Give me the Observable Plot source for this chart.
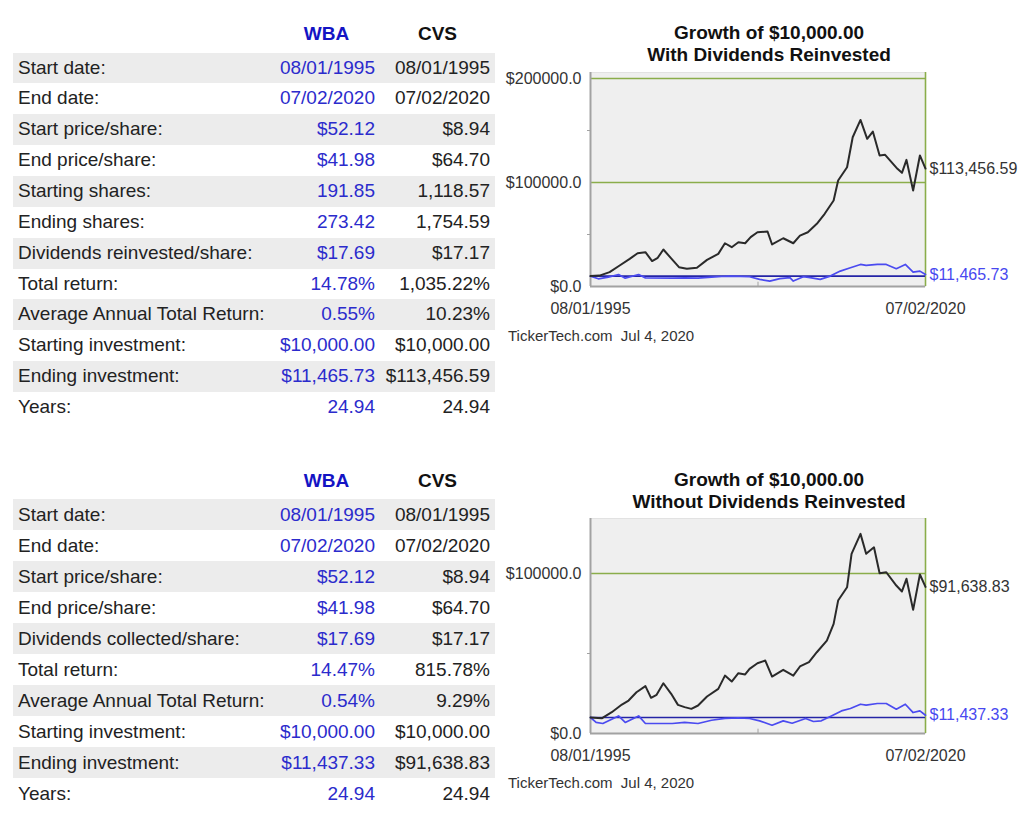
<!DOCTYPE html>
<html>
<head>
<meta charset="utf-8">
<script src="https://cdn.jsdelivr.net/npm/d3@7"></script>
<script src="https://cdn.jsdelivr.net/npm/@observablehq/plot@0.6"></script>
<style>
  html, body { margin: 0; padding: 0; background: #fff; }
  body { width: 1024px; height: 822px; position: relative; overflow: hidden;
         font-family: "Liberation Sans", Arial, sans-serif; color: #222; }
  .row { position: absolute; left: 13px; width: 482px; font-size: 19px; }
  .row span { position: absolute; top: 0; white-space: nowrap; }
  .lab { left: 5px; color: #222; }
  .wba { right: 120px; color: #2b2bcc; }
  .cvs { right: 5px; color: #222; }
  .hdr { position: absolute; width: 110px; text-align: center; font-weight: bold; font-size: 19px; }
  .title { position: absolute; left: 569px; width: 400px; text-align: center; font-weight: bold; font-size: 19px; color: #111; line-height: 22px; }
  .cap { position: absolute; left: 508px; font-size: 15px; color: #333; white-space: pre; }
  .chart { position: absolute; left: 500px; }
</style>
</head>
<body>
<div id="root"></div>
<script>
// ---------- Table data ----------
const tickers = ["WBA", "CVS"];
const labels1 = ["Start date:", "End date:", "Start price/share:", "End price/share:", "Starting shares:", "Ending shares:", "Dividends reinvested/share:", "Total return:", "Average Annual Total Return:", "Starting investment:", "Ending investment:", "Years:"];
const wba1 = ["08/01/1995", "07/02/2020", "$52.12", "$41.98", "191.85", "273.42", "$17.69", "14.78%", "0.55%", "$10,000.00", "$11,465.73", "24.94"];
const cvs1 = ["08/01/1995", "07/02/2020", "$8.94", "$64.70", "1,118.57", "1,754.59", "$17.17", "1,035.22%", "10.23%", "$10,000.00", "$113,456.59", "24.94"];

const labels2 = ["Start date:", "End date:", "Start price/share:", "End price/share:", "Dividends collected/share:", "Total return:", "Average Annual Total Return:", "Starting investment:", "Ending investment:", "Years:"];
const wba2 = ["08/01/1995", "07/02/2020", "$52.12", "$41.98", "$17.69", "14.47%", "0.54%", "$10,000.00", "$11,437.33", "24.94"];
const cvs2 = ["08/01/1995", "07/02/2020", "$8.94", "$64.70", "$17.17", "815.78%", "9.29%", "$10,000.00", "$91,638.83", "24.94"];

// ---------- Chart data (date, value) ----------
const cvsWith = [["1995-08-01",10000],["1996-04",10500],["1997-01",13800],["1997-10",20200],["1998-07",26600],["1999-02",32000],["1999-09",33000],["2000-03",24500],["2000-08",27600],["2001-01",35600],["2001-08",27000],["2002-03",18600],["2002-10",17000],["2003-07",18000],["2004-04",25600],["2005-02",31400],["2005-08",41600],["2006-02",37800],["2006-08",42600],["2007-02",41600],["2007-07",47500],["2008-01",52200],["2008-10",52900],["2009-02",40400],["2009-12",46400],["2010-09",41600],["2011-03",49000],["2011-10",52200],["2012-06",60300],["2013-01",69900],["2013-09",82700],["2014-01",101900],["2014-09",114700],["2015-02",143500],["2015-09",160200],["2016-03",142000],["2016-08",149000],["2017-02",126000],["2017-07",126600],["2018-06",113200],["2018-10",109300],["2019-02",121800],["2019-08",92300],["2020-02",126000],["2020-07-02",113456.59]];
const wbaWith = [["1995-08-01",10000],["1996-03",7400],["1996-12",9000],["1997-09",11500],["1998-03",8000],["1999-03",11500],["1999-09",8300],["2001-09",8000],["2002-08",8300],["2003-08",8000],["2004-08",9000],["2005-05",9600],["2006-02",10000],["2007-06",9400],["2008-03",6800],["2008-12",5200],["2009-09",7500],["2010-06",8500],["2010-09",5200],["2011-06",9400],["2011-12",8500],["2012-09",6800],["2013-06",10000],["2014-03",14800],["2014-12",18000],["2015-09",21200],["2016-02",20300],["2016-12",21200],["2017-08",21200],["2018-05",17100],["2019-01",21200],["2019-08",13800],["2020-02",14800],["2020-07-02",11465.73]];
const cvsWithout = [["1995-08-01",10000],["1996-06",9500],["1997-03",13300],["1997-12",18100],["1998-06",20600],["1999-01",25800],["1999-09",29600],["2000-02",22300],["2000-07",24200],["2001-01",31400],["2001-08",24800],["2002-02",17900],["2002-08",16500],["2003-02",15400],["2003-08",17500],["2004-04",23100],["2005-02",27900],["2005-08",36200],["2006-02",32500],["2006-08",37700],["2007-02",36900],["2007-06",40400],["2008-01",43900],["2008-08",45600],["2009-02",35600],["2009-12",39800],["2010-09",36200],["2011-03",41900],["2011-11",44600],["2012-06",50800],["2013-03",58100],["2013-09",68500],["2014-01",83100],["2014-09",91400],["2015-01",112300],["2015-09",124800],["2016-02",112300],["2016-09",116400],["2017-02",100200],["2017-08",100800],["2018-05",92500],["2018-10",88800],["2019-02",96700],["2019-08",77300],["2020-02",99400],["2020-07-02",91638.83]];
const wbaWithout = [["1995-08-01",10000],["1996-01",6900],["1996-07",6250],["1997-09",11000],["1998-03",6900],["1999-03",11000],["1999-09",6250],["2001-09",6250],["2002-08",6900],["2003-08",6250],["2004-08",8300],["2005-08",9400],["2006-08",9800],["2007-06",9400],["2008-03",7900],["2009-02",5200],["2009-12",7900],["2010-08",6400],["2011-08",9400],["2012-03",7500],["2012-10",7900],["2013-07",11000],["2014-04",14100],["2014-12",15600],["2015-09",18300],["2016-02",17700],["2016-12",18750],["2017-08",18750],["2018-05",15200],["2019-01",18300],["2019-08",13100],["2020-02",14100],["2020-07-02",11437.33]];

const startDate = "1995-08-01", endDate = "2020-07-02";
const startInvestment = 10000;
const titleLine1 = "Growth of $10,000.00";
const subtitles = ["With Dividends Reinvested", "Without Dividends Reinvested"];
const caption = "TickerTech.com  Jul 4, 2020";
const yLabelTicks1 = [0, 100000, 200000], yMinorTicks1 = [50000, 150000], yMax1 = 205800;
const yLabelTicks2 = [0, 100000], yMinorTicks2 = [50000], yMax2 = 134400;

// ---------- Build tables ----------
const root = document.getElementById("root");
function el(cls, text, style) {
  const d = document.createElement("div");
  d.className = cls; if (text != null) d.textContent = text;
  Object.assign(d.style, style || {});
  root.appendChild(d); return d;
}
function table(labels, wba, cvs, headerY, bandTop, rowH) {
  el("hdr", tickers[0], {left: "271.5px", top: (headerY - 11) + "px", color: "#1414c4", lineHeight: "22px"});
  el("hdr", tickers[1], {left: "382.5px", top: (headerY - 11) + "px", color: "#111", lineHeight: "22px"});
  labels.forEach((lab, i) => {
    const r = el("row", null, {top: (bandTop + i * rowH) + "px", height: rowH + "px", lineHeight: rowH + "px",
      background: i % 2 === 0 ? "#ececec" : "transparent"});
    [["lab", lab], ["wba", wba[i]], ["cvs", cvs[i]]].forEach(([c, t]) => {
      const s = document.createElement("span"); s.className = c; s.textContent = t; r.appendChild(s);
    });
  });
}
table(labels1, wba1, cvs1, 34, 52.6, 30.85);
table(labels2, wba2, cvs2, 481, 498.5, 31.0);

// ---------- Charts ----------
const toRows = arr => arr.map(([d, v]) => ({date: new Date(d), value: v}));
const fmtMoney = d3.format("$,.2f");
function chart(cvsArr, wbaArr, yMax, labelTicks, minorTicks, height, marginTop) {
  const cvs = toRows(cvsArr), wba = toRows(wbaArr);
  const x0 = new Date(startDate), x1 = new Date(endDate);
  const mid = new Date((+x0 + +x1) / 2);
  const green = "#8aad4a", gray = "#a2a2a2";
  return Plot.plot({
    width: 524, height, marginLeft: 90, marginRight: 99, marginTop, marginBottom: 34,
    style: {fontFamily: "'Liberation Sans', Arial, sans-serif", fontSize: "16px", color: "#333", background: "transparent", overflow: "visible"},
    x: {type: "utc", domain: [x0, x1], label: null},
    y: {domain: [0, yMax], label: null},
    marks: [
      Plot.frame({fill: "#efefef", stroke: "#e2e2e2"}),
      Plot.ruleY(labelTicks.filter(d => d > 0), {stroke: green, strokeWidth: 1.6}),
      Plot.ruleX([x1], {stroke: green, strokeWidth: 1.6}),
      Plot.ruleX([x0], {stroke: gray, strokeWidth: 2}),
      Plot.ruleY([0], {stroke: gray, strokeWidth: 2}),
      Plot.ruleX([mid], {y1: 0, y2: yMax * 0.02, stroke: gray, strokeWidth: 1}),
      Plot.ruleY([startInvestment], {stroke: "#2424a6", strokeWidth: 1.6}),
      Plot.line(wba, {x: "date", y: "value", stroke: "#4b4bf0", strokeWidth: 1.7}),
      Plot.line(cvs, {x: "date", y: "value", stroke: "#2a2a2a", strokeWidth: 2}),
      Plot.text([cvs[cvs.length - 1]], {x: "date", y: "value", text: d => fmtMoney(d.value), textAnchor: "start", dx: 4, fill: "#333", fontSize: 16}),
      Plot.text([wba[wba.length - 1]], {x: "date", y: "value", text: d => fmtMoney(d.value), textAnchor: "start", dx: 4, fill: "#4848f0", fontSize: 16}),
      Plot.axisY({ticks: labelTicks, tickSize: 0, tickPadding: 9, tickFormat: d => "$" + d.toFixed(1), fontSize: 16, label: null}),
      Plot.axisY({ticks: minorTicks, tickSize: 3, tickPadding: 0, tickFormat: () => "", stroke: gray, label: null}),
      Plot.axisX({ticks: [x0, x1], tickSize: 0, tickPadding: 16, tickFormat: d3.utcFormat("%m/%d/%Y"), fontSize: 16, label: null})
    ]
  });
}

function placeChart(svg, top) {
  const wrap = el("chart", null, {top: top + "px"});
  wrap.appendChild(svg);
}

el("title", null, {top: "22px"}).innerHTML = titleLine1 + "<br>" + subtitles[0];
placeChart(chart(cvsWith, wbaWith, yMax1, yLabelTicks1, yMinorTicks1, 260, 12), 60);
el("cap", caption, {top: "327px"});

el("title", null, {top: "469px"}).innerHTML = titleLine1 + "<br>" + subtitles[1];
placeChart(chart(cvsWithout, wbaWithout, yMax2, yLabelTicks2, yMinorTicks2, 262, 13), 505);
el("cap", caption, {top: "774px"});
</script>
</body>
</html>
